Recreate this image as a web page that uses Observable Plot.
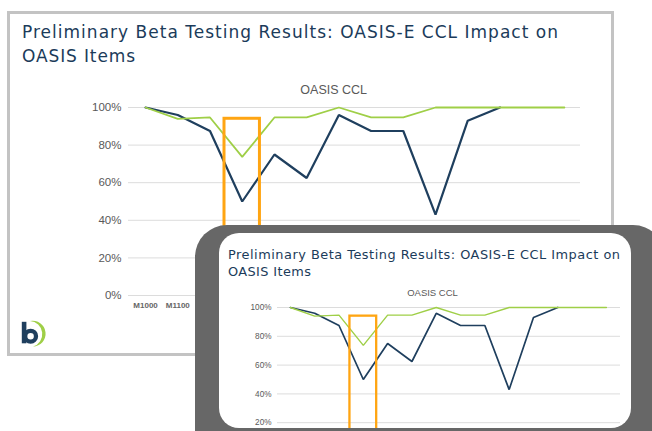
<!DOCTYPE html>
<html>
<head>
<meta charset="utf-8">
<script src="https://cdn.jsdelivr.net/npm/d3@7"></script>
<script src="https://cdn.jsdelivr.net/npm/@observablehq/plot@0.6"></script>
<style>
  html, body { margin: 0; padding: 0; }
  body { width: 652px; height: 431px; overflow: hidden; position: relative; background: #ffffff; }
  .abs { position: absolute; }
  svg.deco { position: absolute; left: 0; top: 0; overflow: visible; }
</style>
</head>
<body>
<script>
// ---- data ----
const items = ["M1000","M1100","M1800","M1810","M1820","M1830","M1840","M1845","M1850","M1860","M1870","M2020","M2030","M2102"];
// navy series: last two points are hidden under the green line in the picture
const navyValues  = [100, 96, 87.5, 50, 75, 62.5, 96, 87.5, 87.5, 43, 93, 100, null, null];
const greenValues = [100, 94, 94.7, 73.7, 94.7, 94.7, 100, 94.7, 94.7, 100, 100, 100, 100, 100];
const yTicks = [0, 20, 40, 60, 80, 100];
const highlightItem = "M1810";
const highlightTop = 94;
const titleLines = ["Preliminary Beta Testing Results: OASIS-E CCL Impact on", "OASIS Items"];
const chartTitle = "OASIS CCL";

const rows = items.map((name, i) => ({ i, name, navy: navyValues[i], green: greenValues[i] }));
const hIdx = items.indexOf(highlightItem);
const highlight = [{ x1: hIdx - 0.55, x2: hIdx + 0.55, y1: -25, y2: highlightTop }];

const NS = "http://www.w3.org/2000/svg";
function el(tag, attrs, parent, text) {
  const e = document.createElementNS(NS, tag);
  for (const k in attrs) e.setAttribute(k, attrs[k]);
  if (text != null) e.textContent = text;
  if (parent) parent.appendChild(e);
  return e;
}

function makeChart(o) {
  return Plot.plot({
    width: o.width, height: o.height,
    marginLeft: o.ml, marginRight: o.mr, marginTop: o.mt, marginBottom: o.mb,
    style: { fontFamily: "'Liberation Sans', Arial, sans-serif", background: "transparent", overflow: "visible" },
    x: { type: "linear", domain: o.xDomain },
    y: { domain: [0, 100] },
    marks: [
      Plot.gridY(yTicks, { stroke: "#dcdcdc", strokeOpacity: 1, strokeWidth: 1 }),
      Plot.axisY(yTicks, { tickSize: 0, tickPadding: o.yPad, tickFormat: d => d + "%", fontSize: o.yfs, fill: "#595959", label: null }),
      Plot.axisX(d3.range(items.length), { tickSize: 0, tickPadding: o.xPad, tickFormat: i => items[i], fontSize: o.xfs, fontWeight: "bold", fill: "#666666", label: null }),
      Plot.line(rows, { x: "i", y: "navy", stroke: "#1f3f5e", strokeWidth: o.lw, strokeLinejoin: "miter" }),
      Plot.line(rows, { x: "i", y: "green", stroke: "#9fcf47", strokeWidth: o.glw, strokeLinejoin: "miter" }),
      Plot.rect(highlight, { x1: "x1", x2: "x2", y1: "y1", y2: "y2", fill: "none", stroke: "#ffa512", strokeWidth: o.ow })
    ]
  });
}

// ---- main slide ----
const card = document.createElement("div");
card.className = "abs";
Object.assign(card.style, { left: "6.5px", top: "11px", width: "607px", height: "345px", border: "3px solid #c3c3c3", boxSizing: "border-box", background: "#fff" });
document.body.appendChild(card);

const deco = el("svg", { class: "deco", width: 652, height: 431 }, document.body);
const tf = "'DejaVu Sans', 'Open Sans', sans-serif";
el("text", { x: 22, y: 37.9, "font-family": tf, "font-size": 17, fill: "#1b3b5a", textLength: 536, lengthAdjust: "spacing" }, deco, titleLines[0]);
el("text", { x: 22, y: 61.9, "font-family": tf, "font-size": 17, fill: "#1b3b5a", textLength: 113, lengthAdjust: "spacing" }, deco, titleLines[1]);
el("text", { x: 333.7, y: 93.5, "font-family": "'Liberation Sans', Arial, sans-serif", "font-size": 12.5, fill: "#595959", "text-anchor": "middle" }, deco, chartTitle);
// logo
el("rect", { x: 21.8, y: 321.8, width: 4.6, height: 21.5, fill: "#1f3f5e" }, deco);
el("circle", { cx: 30.6, cy: 336.2, r: 5.4, fill: "none", stroke: "#1f3f5e", "stroke-width": 4.3 }, deco);
el("path", { d: "M30,321 A12.94,12.94 0 1 1 33,346.6 A13.1,13.1 0 0 0 30,321 Z", fill: "#9fcf47" }, deco);

const mainWrap = document.createElement("div");
mainWrap.className = "abs";
Object.assign(mainWrap.style, { left: "0px", top: "80px" });
mainWrap.appendChild(makeChart({ width: 600, height: 240, ml: 128, mr: 20, mt: 27, mb: 25, xDomain: [-0.53, 13.5], yPad: 7, yfs: 11.5, xPad: 7, xfs: 8, lw: 2.2, glw: 1.8, ow: 3 }));
document.body.appendChild(mainWrap);

// ---- overlay (zoomed copy) ----
const frame = document.createElement("div");
frame.className = "abs";
Object.assign(frame.style, { left: "195px", top: "225px", width: "470px", height: "260px", background: "#676767", borderRadius: "32px" });
document.body.appendChild(frame);

const inner = document.createElement("div");
inner.className = "abs";
Object.assign(inner.style, { left: "219px", top: "233px", width: "412px", height: "195px", background: "#fff", borderRadius: "20px", overflow: "hidden" });
document.body.appendChild(inner);

const innerDeco = el("svg", { class: "deco", width: 412, height: 195 }, inner);
el("text", { x: 9, y: 26.2, "font-family": tf, "font-size": 12.9, fill: "#1b3b5a", textLength: 392, lengthAdjust: "spacing" }, innerDeco, titleLines[0]);
el("text", { x: 9, y: 42.9, "font-family": tf, "font-size": 12.9, fill: "#1b3b5a", textLength: 83, lengthAdjust: "spacing" }, innerDeco, titleLines[1]);
el("text", { x: 213.5, y: 63.4, "font-family": "'Liberation Sans', Arial, sans-serif", "font-size": 9.5, fill: "#595959", "text-anchor": "middle" }, innerDeco, chartTitle);

const innerWrap = document.createElement("div");
innerWrap.className = "abs";
Object.assign(innerWrap.style, { left: "0px", top: "0px" });
innerWrap.appendChild(makeChart({ width: 411, height: 238, ml: 58, mr: 10, mt: 74, mb: 20, xDomain: [-0.53, 13.58], yPad: 6, yfs: 8.2, xPad: 6, xfs: 6.5, lw: 1.7, glw: 1.4, ow: 2.3 }));
inner.appendChild(innerWrap);
</script>
</body>
</html>
